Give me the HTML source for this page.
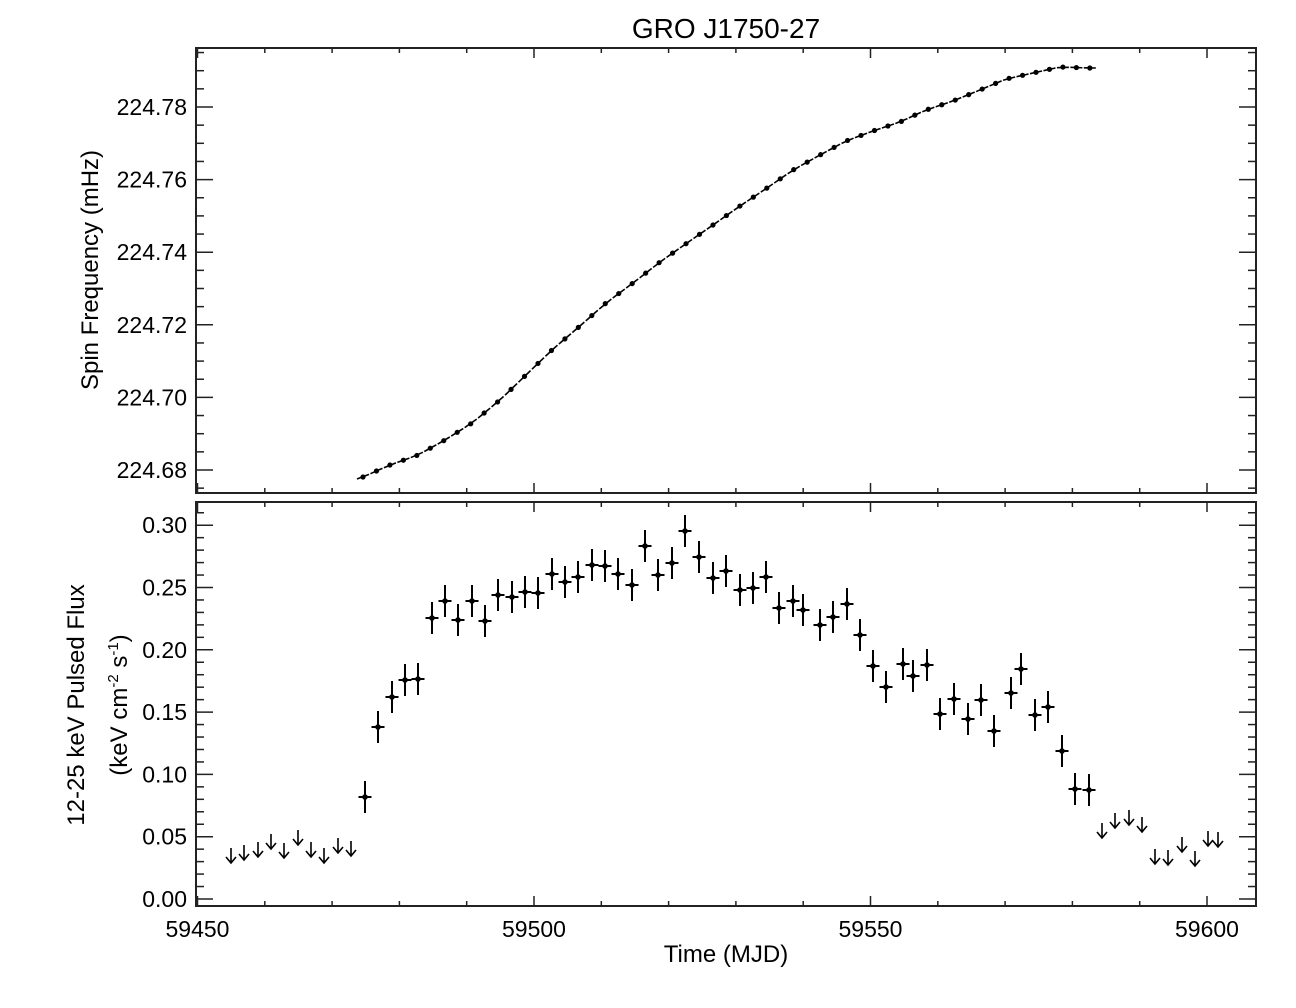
<!DOCTYPE html>
<html><head><meta charset="utf-8"><style>
html,body{margin:0;padding:0;background:#fff;}
svg{display:block;font-family:"Liberation Sans",sans-serif;}
</style></head><body>
<svg id="s" width="1296" height="1008" xmlns="http://www.w3.org/2000/svg"></svg>
<script>
const s=document.getElementById('s');let h='';
const X0=196,X1=1256,T0=48,T1=493,B0=502,B1=906;
const xp=d=>197.5+(d-59450)*6.73;
const yt=v=>470-(v-224.68)/0.02*72.6;
const yb=v=>899-v/0.05*62.3;
h+=`<text x="726" y="38" font-size="28" text-anchor="middle">GRO J1750-27</text>`;
function box(y0,y1){h+=`<rect x="${X0}" y="${y0}" width="${X1-X0}" height="${y1-y0}" fill="none" stroke="#222" stroke-width="2"/>`;
 for(let d=59450;d<=59607;d+=10){const x=xp(d),L=(d%50==0)?10:5;
  h+=`<line x1="${x}" y1="${y1}" x2="${x}" y2="${y1-L}" stroke="#222" stroke-width="1.5"/><line x1="${x}" y1="${y0}" x2="${x}" y2="${y0+L}" stroke="#222" stroke-width="1.5"/>`;}}
box(T0,T1);box(B0,B1);
for(let i=0;i<=24;i++){const v=224.675+i*0.005,y=yt(v);if(y<T0||y>T1)continue;const maj=Math.abs((v-224.68)/0.02-Math.round((v-224.68)/0.02))<1e-6;const L=maj?17:8;
 h+=`<line x1="${X0}" y1="${y}" x2="${X0+L}" y2="${y}" stroke="#222" stroke-width="1.5"/><line x1="${X1}" y1="${y}" x2="${X1-L}" y2="${y}" stroke="#222" stroke-width="1.5"/>`;
 if(maj)h+=`<text x="187" y="${y+8}" font-size="23" text-anchor="end">${v.toFixed(2)}</text>`;}
for(let i=0;i<=31;i++){const v=i*0.01,y=yb(v);if(y<B0)continue;const maj=i%5==0;const L=maj?17:8;
 h+=`<line x1="${X0}" y1="${y}" x2="${X0+L}" y2="${y}" stroke="#222" stroke-width="1.5"/><line x1="${X1}" y1="${y}" x2="${X1-L}" y2="${y}" stroke="#222" stroke-width="1.5"/>`;
 if(maj)h+=`<text x="187" y="${y+8}" font-size="23" text-anchor="end">${v.toFixed(2)}</text>`;}
[59450,59500,59550,59600].forEach(d=>h+=`<text x="${xp(d)}" y="937" font-size="23" text-anchor="middle">${d}</text>`);
h+=`<text x="726" y="962" font-size="24" text-anchor="middle">Time (MJD)</text>`;
h+=`<text transform="translate(98,270) rotate(-90)" font-size="24" text-anchor="middle">Spin Frequency (mHz)</text>`;
h+=`<text transform="translate(84,705) rotate(-90)" font-size="24" text-anchor="middle">12-25 keV Pulsed Flux</text>`;
h+=`<text transform="translate(127,705) rotate(-90)" font-size="24" text-anchor="middle">(keV cm<tspan font-size="15" dy="-9">-2</tspan><tspan dy="9"> s</tspan><tspan font-size="15" dy="-9">-1</tspan><tspan dy="9">)</tspan></text>`;
const K=[[358,479],[363,477],[390,465],[418,455],[445,440],[472,423],[500,400],[527,374],[553,349],[580,326],[606,303],[633,283],[660,262],[687,243],[713,225],[740,206],[767,188],[793,170],[820,155],[846,141],[873,131],[900,122],[926,110],[953,101],[980,90],[1006,79],[1033,73],[1060,67],[1090,68],[1095,68]];
function yAt(x){for(let i=0;i<K.length-1;i++){if(x>=K[i][0]&&x<=K[i+1][0]){const t=(x-K[i][0])/(K[i+1][0]-K[i][0]);return K[i][1]+t*(K[i+1][1]-K[i][1]);}}return x<K[0][0]?K[0][1]:K[K.length-1][1];}
for(let x=363;x<=1092;x+=13.46){const y=yAt(x),y1=yAt(x-6),y2=yAt(x+6);
 h+=`<line x1="${x-6}" y1="${y1}" x2="${x+6}" y2="${y2}" stroke="#000" stroke-width="1.6"/><circle cx="${x}" cy="${y}" r="2.6"/>`;}
const P=[[365,797],[378,727],[392,697],[405,680],[418,679],[432,618],[445,601],[458,620],[472,601],[485,621],[498,595],[512,597],[525,592],[538,593],[552,574],[565,582],[578,577],[592,565],[605,566],[618,574],[632,585],[645,546],[658,575],[672,563],[685,531],[699,557],[713,578],[726,571],[740,590],[753,588],[766,577],[779,608],[793,601],[803,610],[820,625],[833,617],[847,604],[860,635],[873,666],[886,687],[903,664],[913,676],[927,665],[940,714],[954,699],[968,719],[981,700],[994,731],[1011,693],[1021,669],[1035,715],[1048,707],[1062,751],[1075,789],[1089,790]];
P.forEach(([x,y])=>{h+=`<line x1="${x}" y1="${y-16}" x2="${x}" y2="${y+16}" stroke="#000" stroke-width="2"/><line x1="${x-6.5}" y1="${y}" x2="${x+6.5}" y2="${y}" stroke="#000" stroke-width="2"/><circle cx="${x}" cy="${y}" r="2.8"/>`;});
const A=[[231,863],[244,860],[258,857],[271,849],[284,858],[298,845],[311,857],[324,863],[338,853],[351,856],[1102,838],[1115,828],[1129,825],[1142,832],[1155,864],[1168,865],[1182,852],[1195,866],[1208,846],[1218,847]];
A.forEach(([x,y])=>{h+=`<path d="M${x} ${y-15}V${y}M${x-5} ${y-6}L${x} ${y}L${x+5} ${y-6}" fill="none" stroke="#000" stroke-width="1.6"/>`;});
s.innerHTML=h;
</script>
</body></html>
